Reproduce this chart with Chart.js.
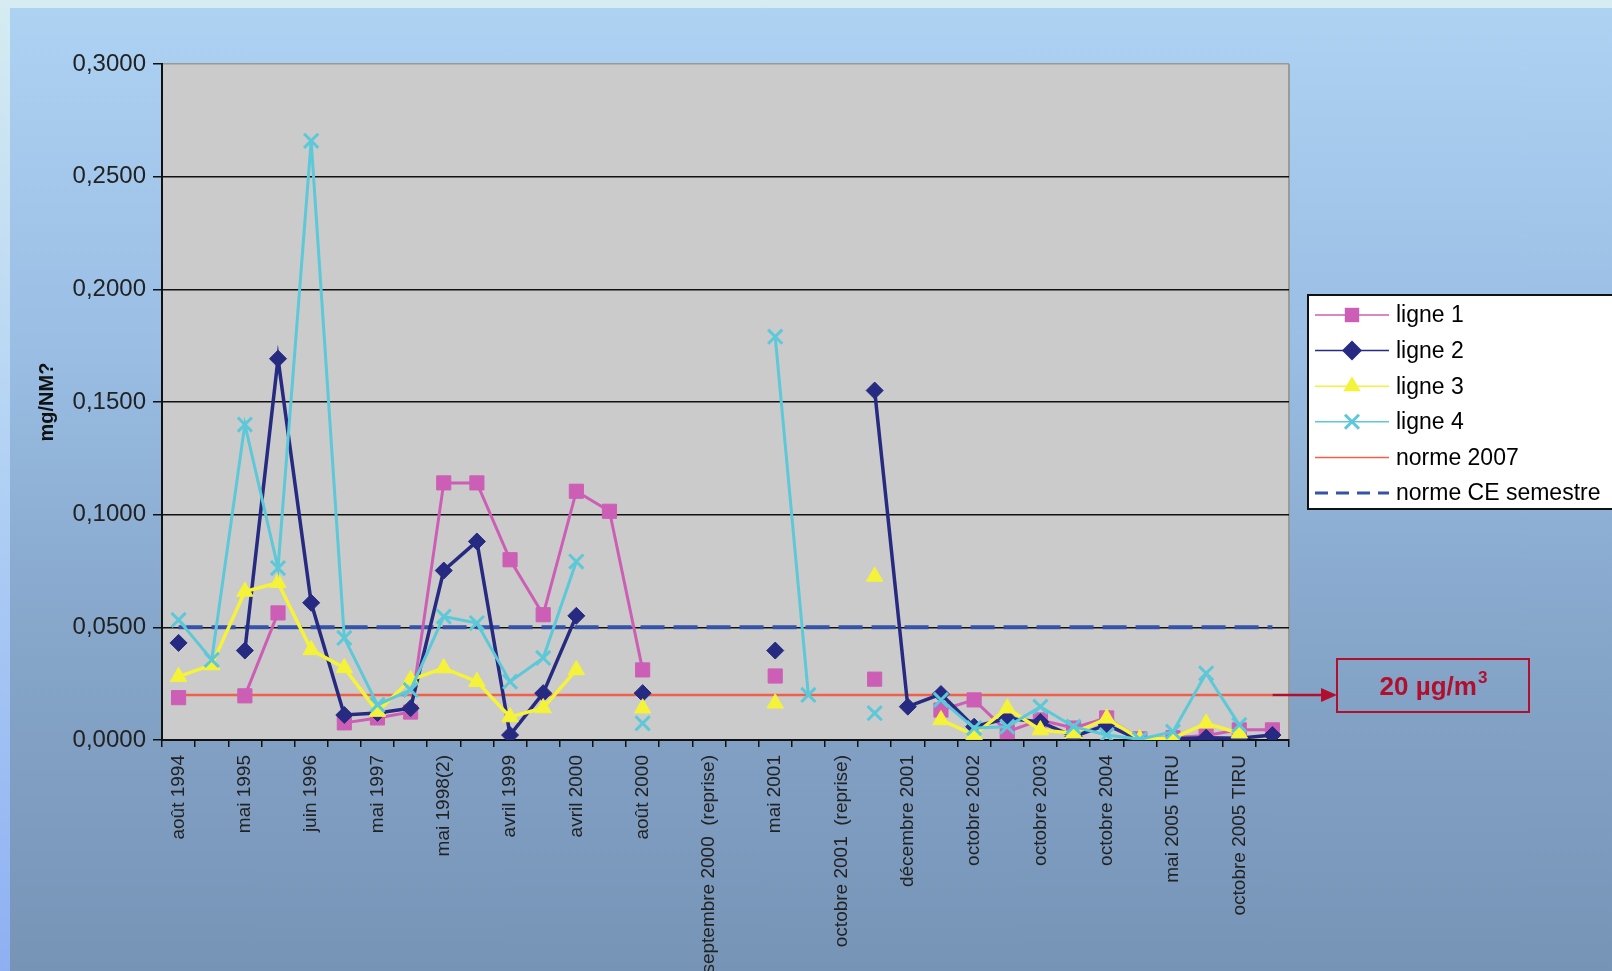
<!DOCTYPE html>
<html>
<head>
<meta charset="utf-8">
<script src="https://cdn.jsdelivr.net/npm/chart.js"></script>
<style>
html, body { margin: 0; padding: 0; width: 1612px; height: 971px; overflow: hidden; }
body { background: linear-gradient(to bottom, #d6ecf2 0%, #b0d0f4 50%, #8eb0f2 100%); }
#bg { position: absolute; left: 10px; top: 8px; right: 0; bottom: 0;
      background: linear-gradient(to bottom, #aed2f2 0%, #9abee4 35%, #86a6ca 65%, #7694b6 100%); }
#wrap { position: absolute; left: 0; top: 0; width: 1612px; height: 971px; }
</style>
</head>
<body>
<div id="bg"></div>
<div id="wrap"><canvas id="chart"></canvas></div>
<script>
var categories = [
    "août 1994", "", "mai 1995", "", "juin 1996", "", "mai 1997", "",
    "mai 1998(2)", "", "avril 1999", "", "avril 2000", "", "août 2000", "",
    "septembre 2000  (reprise)", "", "mai 2001", "", "octobre 2001  (reprise)", "",
    "décembre 2001", "", "octobre 2002", "", "octobre 2003", "", "octobre 2004", "",
    "mai 2005 TIRU", "", "octobre 2005 TIRU", ""
];

var ligne1 = [0.0188, null, 0.0196, 0.0564, null, 0.0076, 0.0098, 0.0124, 0.1141, 0.1141,
    0.0800, 0.0556, 0.1104, 0.1015, 0.0311, null, null, null, 0.0284, null,
    null, 0.0270, null, 0.0133, 0.0178, 0.0037, 0.0089, 0.0053, 0.0098, 0.0005,
    0.0010, 0.0020, 0.0045, 0.0045];
var ligne2 = [0.0431, null, 0.0397, 0.1692, 0.0609, 0.0111, 0.0120, 0.0141, 0.0752, 0.0881,
    0.0022, 0.0208, 0.0551, null, 0.0208, null, null, null, 0.0397, null,
    null, 0.1551, 0.0148, 0.0204, 0.0059, 0.0096, 0.0080, 0.0015, 0.0067, 0.0000,
    0.0005, 0.0010, 0.0008, 0.0022];
var ligne3 = [0.0281, 0.0333, 0.0659, 0.0698, 0.0400, 0.0320, 0.0126, 0.0267, 0.0319, 0.0259,
    0.0102, 0.0142, 0.0311, null, 0.0141, null, null, null, 0.0163, null,
    null, 0.0726, null, 0.0089, 0.0022, 0.0141, 0.0044, 0.0030, 0.0096, 0.0004,
    0.0008, 0.0074, 0.0030, null];
var ligne4 = [0.0533, 0.0356, 0.1400, 0.0763, 0.2659, 0.0453, 0.0156, 0.0222, 0.0548, 0.0519,
    0.0259, 0.0364, 0.0792, null, 0.0074, null, null, null, 0.1790, 0.0200,
    null, 0.0119, null, 0.0178, 0.0053, 0.0059, 0.0148, 0.0059, 0.0022, 0.0003,
    0.0037, 0.0296, 0.0067, null];

var norme2007 = 0.02;
var normeCE = 0.05;

var yMin = 0, yMax = 0.3, yStep = 0.05;
var yTitle = "mg/NM?";
var noteText = "20 µg/m";
var noteSup = "3";

var FONT = "'Liberation Sans', Arial, sans-serif";

function drawMarker(ctx, style, x, y, r, color, bw) {
    ctx.beginPath();
    if (style === "rect") {
        var s = r * 0.72;
        ctx.rect(x - s, y - s, 2 * s, 2 * s);
    } else if (style === "rectRot") {
        ctx.moveTo(x, y - r); ctx.lineTo(x + r, y); ctx.lineTo(x, y + r); ctx.lineTo(x - r, y);
        ctx.closePath();
    } else if (style === "triangle") {
        ctx.moveTo(x, y - r); ctx.lineTo(x + r * 0.87, y + r * 0.5); ctx.lineTo(x - r * 0.87, y + r * 0.5);
        ctx.closePath();
    } else if (style === "crossRot") {
        var c = r * 0.7;
        ctx.moveTo(x - c, y - c); ctx.lineTo(x + c, y + c);
        ctx.moveTo(x + c, y - c); ctx.lineTo(x - c, y + c);
        ctx.strokeStyle = color; ctx.lineWidth = bw; ctx.stroke();
        return;
    }
    ctx.fillStyle = color;
    ctx.fill();
}

// grey plot area with a light frame on the right
var plotBg = {
    id: "plotBg",
    beforeDraw: function (chart) {
        var a = chart.chartArea, ctx = chart.ctx;
        ctx.save();
        ctx.fillStyle = "#cbcbcb";
        ctx.fillRect(a.left, a.top, a.right - a.left, a.bottom - a.top);
        ctx.strokeStyle = "#9a9a9a";
        ctx.lineWidth = 2;
        ctx.beginPath(); ctx.moveTo(a.right, a.top); ctx.lineTo(a.right, a.bottom); ctx.stroke();
        ctx.restore();
    }
};

// legend box and the "20 µg/m3" note
var legendBox = {
    id: "legendBox",
    afterDraw: function (chart) {
        var ctx = chart.ctx;
        ctx.save();
        ctx.fillStyle = "#ffffff";
        ctx.fillRect(1308, 295, 330, 214);
        ctx.strokeStyle = "#111";
        ctx.lineWidth = 2;
        ctx.strokeRect(1308, 295, 330, 214);

        chart.data.datasets.forEach(function (ds, i) {
            var y = 315 + i * 35.6;
            ctx.strokeStyle = ds.borderColor;
            ctx.lineWidth = ds.borderDash ? 3 : 1.5;
            ctx.setLineDash(ds.borderDash ? [13, 8] : []);
            ctx.beginPath(); ctx.moveTo(1315, y); ctx.lineTo(1389, y); ctx.stroke();
            ctx.setLineDash([]);
            if (ds.pointRadius) drawMarker(ctx, ds.pointStyle, 1352, y, 10, ds.borderColor, 3);
            ctx.fillStyle = "#000";
            ctx.font = "23px " + FONT;
            ctx.textBaseline = "middle";
            ctx.textAlign = "left";
            ctx.fillText(ds.label, 1396, y + 1);
        });

        var red = "#b0102e";
        var yy = chart.scales.y.getPixelForValue(norme2007);
        var x0 = chart.scales.x.getPixelForValue(categories.length - 1);
        ctx.strokeStyle = red;
        ctx.lineWidth = 2.5;
        ctx.beginPath(); ctx.moveTo(x0, yy); ctx.lineTo(1324, yy); ctx.stroke();
        ctx.fillStyle = red;
        ctx.beginPath(); ctx.moveTo(1337, yy); ctx.lineTo(1321, yy - 7); ctx.lineTo(1321, yy + 7); ctx.closePath(); ctx.fill();
        ctx.lineWidth = 2;
        ctx.strokeRect(1337, 659, 192, 53);
        ctx.font = "bold 26px " + FONT;
        ctx.textBaseline = "middle";
        ctx.textAlign = "left";
        var w = ctx.measureText(noteText).width;
        ctx.font = "bold 17px " + FONT;
        var ws = ctx.measureText(noteSup).width;
        var tx = 1433 - (w + ws) / 2;
        ctx.font = "bold 26px " + FONT;
        ctx.fillText(noteText, tx, 688);
        ctx.font = "bold 17px " + FONT;
        ctx.fillText(noteSup, tx + w + 1, 678);
        ctx.restore();
    }
};

new Chart("chart", {
    type: "line",
    data: {
        labels: categories,
        datasets: [
            { label: "ligne 1", data: ligne1, borderColor: "#cc5fb5", backgroundColor: "#cc5fb5",
              borderWidth: 3, pointStyle: "rect", pointRadius: 10, pointBorderWidth: 1, order: 4 },
            { label: "ligne 2", data: ligne2, borderColor: "#262a80", backgroundColor: "#262a80",
              borderWidth: 3.5, pointStyle: "rectRot", pointRadius: 8.5, pointBorderWidth: 1, order: 3 },
            { label: "ligne 3", data: ligne3, borderColor: "#f5f23a", backgroundColor: "#f5f23a",
              borderWidth: 3.5, pointStyle: "triangle", pointRadius: 9.5, pointBorderWidth: 1, order: 2 },
            { label: "ligne 4", data: ligne4, borderColor: "#5cc8d8", backgroundColor: "#5cc8d8",
              borderWidth: 3, pointStyle: "crossRot", pointRadius: 10, pointBorderWidth: 3, order: 1 },
            { label: "norme 2007", data: categories.map(function () { return norme2007; }),
              borderColor: "#f0604c", borderWidth: 2.5, pointRadius: 0, order: 5 },
            { label: "norme CE semestre", data: categories.map(function () { return normeCE; }),
              borderColor: "#3553a8", borderWidth: 4, borderDash: [24, 9], pointRadius: 0, order: 6 }
        ]
    },
    options: {
        responsive: true,
        maintainAspectRatio: false,
        animation: false,
        layout: { padding: { left: 31, top: 64, right: 323, bottom: 0 } },
        elements: { line: { tension: 0 } },
        plugins: {
            legend: { display: false },
            tooltip: { enabled: false }
        },
        scales: {
            x: {
                offset: true,
                grid: { offset: true, drawOnChartArea: false, drawTicks: true, tickLength: 7,
                        color: "#111", tickColor: "#111", lineWidth: 1.5 },
                border: { display: true, color: "#111", width: 2 },
                ticks: { autoSkip: false, minRotation: 90, maxRotation: 90, padding: 8,
                         color: "#222", font: { family: FONT, size: 19 } },
                afterFit: function (s) { s.height = 231; }
            },
            y: {
                min: yMin,
                max: yMax,
                ticks: {
                    stepSize: yStep, padding: 7, color: "#222", font: { family: FONT, size: 24 },
                    callback: function (v) { return v.toFixed(4).replace(".", ","); }
                },
                grid: {
                    drawTicks: true, tickLength: 9, lineWidth: 1.5, tickColor: "#111",
                    color: function (c) {
                        return c.tick && Math.abs(c.tick.value - yMax) < 1e-9 ? "#9a9a9a" : "#111";
                    }
                },
                border: { display: true, color: "#111", width: 2 },
                title: { display: true, text: yTitle, color: "#111",
                         font: { family: FONT, size: 20, weight: "bold" } },
                afterFit: function (s) { s.width = 131; }
            }
        }
    },
    plugins: [plotBg, legendBox]
});
</script>
</body>
</html>
